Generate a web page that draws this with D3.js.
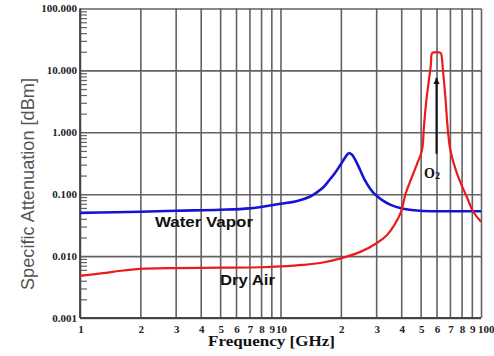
<!DOCTYPE html>
<html>
<head>
<meta charset="utf-8">
<script src="https://cdn.jsdelivr.net/npm/d3@7/dist/d3.min.js"></script>
<style>
  html, body { margin: 0; padding: 0; background: #fff; }
  svg { display: block; }
</style>
</head>
<body>
<svg id="chart" width="494" height="356"></svg>
<script>
// Specific attenuation of the atmosphere vs. frequency (log-log)

// Water vapour absorption (peak near 22 GHz)
const vaporFreq = [1, 1.5, 2, 3, 5, 7, 10, 12, 14, 15, 16.3, 17.5, 18.7, 19.8, 21, 21.7, 22.2, 22.8, 23.5, 24.9, 26.3, 27.9, 29.5, 32, 35.2, 39.5, 44, 49.6, 60, 80, 100];
const vaporAtt  = [0.050, 0.051, 0.052, 0.054, 0.056, 0.059, 0.070, 0.077, 0.091, 0.104, 0.128, 0.168, 0.22, 0.29, 0.39, 0.45, 0.46, 0.43, 0.37, 0.25, 0.17, 0.125, 0.10, 0.081, 0.068, 0.060, 0.056, 0.054, 0.053, 0.053, 0.053];

// Dry air (oxygen complex near 60 GHz)
const dryFreq = [1, 1.3, 1.6, 2, 3, 5, 8, 10, 13, 16, 20, 25, 30, 34, 37, 40, 42, 44.3, 48, 50.7, 52, 53.5, 55, 56.2, 57, 58.5, 61.5, 63, 64.6, 66.5, 68.5, 70.5, 77, 85, 91.5, 100];
const dryAtt  = [0.0048, 0.0053, 0.0058, 0.0062, 0.0064, 0.0065, 0.0066, 0.0068, 0.0072, 0.0078, 0.0092, 0.0117, 0.016, 0.022, 0.032, 0.053, 0.10, 0.16, 0.31, 0.5, 1.3, 3.5, 7, 12, 19, 19.6, 19.6, 19, 10, 3.5, 1.0, 0.5, 0.19, 0.09, 0.052, 0.036];

// Axis ticks
const yTicks = [0.001, 0.01, 0.1, 1, 10, 100];
const xTicks = [1, 2, 3, 4, 5, 6, 7, 8, 9, 10, 20, 30, 40, 50, 60, 70, 80, 90, 100];
const xTickLabels = ["1", "2", "3", "4", "5", "6", "7", "8", "9", "10", "2", "3", "4", "5", "6", "7", "8", "9", "100"];

const svg = d3.select("#chart");
const plotLeft = 80, plotRight = 481, plotTop = 8.5, plotBottom = 318;

const x = d3.scaleLog().domain([1, 100]).range([plotLeft, plotRight]);
const y = d3.scaleLog().domain([0.001, 100]).range([plotBottom, plotTop]);

const gridColor = "#626262";

// Minor ticks on the y axis (2..9 within each decade), pointing into the plot
const yMinor = [];
for (let d = -3; d < 2; d++) {
  for (let k = 2; k <= 9; k++) yMinor.push(k * Math.pow(10, d));
}
svg.append("g")
  .attr("transform", `translate(${plotLeft},0)`)
  .call(d3.axisRight(y).tickValues(yMinor).tickSize(7).tickFormat(""))
  .call(g => g.select(".domain").remove())
  .call(g => g.selectAll("line").attr("stroke", gridColor).attr("stroke-width", 1.2));

// Horizontal grid at each decade
svg.append("g")
  .attr("transform", `translate(${plotLeft},0)`)
  .call(d3.axisRight(y).tickValues(yTicks).tickSize(plotRight - plotLeft).tickFormat(""))
  .call(g => g.select(".domain").remove())
  .call(g => g.selectAll("line").attr("stroke", gridColor).attr("stroke-width", 1.6));

// Vertical grid at every x tick
svg.append("g")
  .attr("transform", `translate(0,${plotTop})`)
  .call(d3.axisBottom(x).tickValues(xTicks).tickSize(plotBottom - plotTop).tickFormat(""))
  .call(g => g.select(".domain").remove())
  .call(g => g.selectAll("line").attr("stroke", gridColor).attr("stroke-width", 1.6));

// Left and bottom axis lines
svg.append("line").attr("x1", plotLeft).attr("x2", plotLeft).attr("y1", plotTop).attr("y2", plotBottom)
  .attr("stroke", "#444").attr("stroke-width", 1.8);
svg.append("line").attr("x1", plotLeft).attr("x2", plotRight).attr("y1", plotBottom).attr("y2", plotBottom)
  .attr("stroke", "#444").attr("stroke-width", 1.8);

// Y tick labels
svg.append("g").selectAll("text").data(yTicks).join("text")
  .attr("x", plotLeft - 3)
  .attr("y", d => y(d))
  .attr("dy", "0.35em")
  .attr("text-anchor", "end")
  .attr("font-family", "'Liberation Serif', 'Times New Roman', serif")
  .attr("font-weight", "bold")
  .attr("font-size", 11)
  .attr("fill", "#222")
  .text(d => d3.format(".3f")(d));

// X tick labels
svg.append("g").selectAll("text").data(xTicks).join("text")
  .attr("x", (d, i) => i === xTicks.length - 1 ? x(d) - 3 : x(d) + 1)
  .attr("y", 333)
  .attr("text-anchor", (d, i) => i === xTicks.length - 1 ? "start" : "middle")
  .attr("font-family", "'Liberation Serif', 'Times New Roman', serif")
  .attr("font-weight", "bold")
  .attr("font-size", 11)
  .attr("fill", "#222")
  .text((d, i) => xTickLabels[i]);

// Curves
const line = d3.line()
  .x(d => x(d[0]))
  .y(d => y(d[1]))
  .curve(d3.curveCatmullRom.alpha(0.5));

svg.append("path")
  .datum(vaporFreq.map((f, i) => [f, vaporAtt[i]]))
  .attr("d", line)
  .attr("fill", "none")
  .attr("stroke", "#1414d2")
  .attr("stroke-width", 2.6)
  .attr("stroke-linejoin", "round");

svg.append("path")
  .datum(dryFreq.map((f, i) => [f, dryAtt[i]]))
  .attr("d", line)
  .attr("fill", "none")
  .attr("stroke", "#ec1b1b")
  .attr("stroke-width", 2.2)
  .attr("stroke-linejoin", "round");

// Curve labels
svg.append("text")
  .attr("x", 155).attr("y", 227)
  .attr("font-family", "'Liberation Sans', Arial, sans-serif")
  .attr("font-weight", "bold").attr("font-size", 15)
  .attr("textLength", 98).attr("lengthAdjust", "spacingAndGlyphs")
  .attr("fill", "#111")
  .text("Water Vapor");

svg.append("text")
  .attr("x", 220).attr("y", 285)
  .attr("font-family", "'Liberation Sans', Arial, sans-serif")
  .attr("font-weight", "bold").attr("font-size", 14)
  .attr("textLength", 55).attr("lengthAdjust", "spacingAndGlyphs")
  .attr("fill", "#111")
  .text("Dry Air");

// O2 marker with arrow pointing at the oxygen peak
svg.append("defs").append("marker")
  .attr("id", "arrowhead")
  .attr("viewBox", "0 0 10 10")
  .attr("refX", 10).attr("refY", 5)
  .attr("markerWidth", 3.2).attr("markerHeight", 3.2)
  .attr("orient", "auto")
  .append("path").attr("d", "M0,0 L10,5 L0,10 Z").attr("fill", "#111");

svg.append("line")
  .attr("x1", x(60)).attr("x2", x(60))
  .attr("y1", y(0.45)).attr("y2", y(7.6))
  .attr("stroke", "#111").attr("stroke-width", 2)
  .attr("marker-end", "url(#arrowhead)");

const o2 = svg.append("text")
  .attr("x", 424).attr("y", 178)
  .attr("font-family", "'Liberation Serif', 'Times New Roman', serif")
  .attr("font-weight", "bold").attr("font-size", 14)
  .attr("fill", "#111");
o2.append("tspan").text("O");
o2.append("tspan").attr("font-size", 10).attr("dy", 0.5).text("2");

// Axis titles
svg.append("text")
  .attr("x", 271.5).attr("y", 346)
  .attr("text-anchor", "middle")
  .attr("font-family", "'Liberation Serif', 'Times New Roman', serif")
  .attr("font-weight", "bold").attr("font-size", 14)
  .attr("textLength", 127).attr("lengthAdjust", "spacingAndGlyphs")
  .attr("fill", "#111")
  .text("Frequency [GHz]");

svg.append("text")
  .attr("transform", "translate(34,184) rotate(-90)")
  .attr("text-anchor", "middle")
  .attr("font-family", "'Liberation Sans', Arial, sans-serif")
  .attr("font-size", 18)
  .attr("textLength", 212).attr("lengthAdjust", "spacingAndGlyphs")
  .attr("fill", "#555")
  .text("Specific  Attenuation [dBm]");
</script>
</body>
</html>
